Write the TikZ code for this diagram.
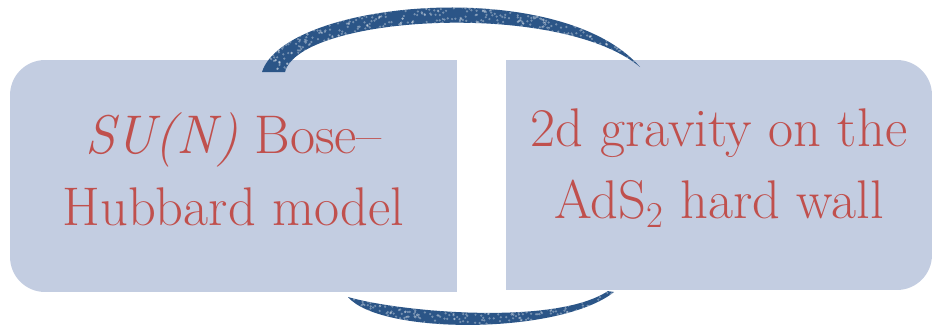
\documentclass[tikz,border=0pt]{standalone}
\usetikzlibrary{positioning}

\definecolor{boxfill}{HTML}{C3CDE1}
\definecolor{labelred}{HTML}{C0504D}
\definecolor{strokeblue}{HTML}{2B5587}

\tikzset{
  model box/.style={fill=boxfill, rounded corners=0.7cm, inner sep=0pt},
  model text/.style={text=labelred, align=center, yshift=0.14cm,
                     font=\fontsize{31}{41}\selectfont},
  brush/.style={fill=strokeblue},
}

% sprinkle light grain over the current clip region
\newcommand\grain[4]{%
  \pgfmathsetseed{#1}
  \foreach \i in {1,...,#4} {
    \pgfmathsetmacro\gx{#2+rnd*380}
    \pgfmathsetmacro\gy{#3+rnd*70}
    \fill[white,opacity=.35] (\gx,\gy) circle[radius=.7pt];
  }%
}

\begin{document}
\begin{tikzpicture}[x=0.02cm,y=-0.02cm]
\useasboundingbox (0,0) rectangle (932,329);

% the two boxes, rounded on the outer side only
\node[model box, minimum width=8.94cm, minimum height=4.64cm] (boseBox) at (233.5,176) {};
\fill[boxfill] (boseBox.north) rectangle (boseBox.south east);
\node[model box, minimum width=8.52cm, minimum height=4.60cm] (adsBox) at (719,175) {};
\fill[boxfill] (adsBox.south west) rectangle (adsBox.north);

\node[model text] (boseText) at (boseBox) {\textit{SU(N)} Bose--\\Hubbard model};
\node[model text] (adsText)  at (adsBox)  {2d gravity on the\\AdS$_2$ hard wall};

% upper stroke, blunt end on the left box, tip on the right box
\begin{scope}
  \clip (262,72) .. controls (285,0) and (560,-25) .. (640,67)
                 .. controls (560,0) and (300,15) .. (285,72) -- cycle;
  \fill[brush] (250,0) rectangle (650,80);
  \grain{3}{260}{0}{1600}
\end{scope}

% lower stroke, tip under the left box, thin end under the right box
\begin{scope}
  \clip (348,297) .. controls (380,335) and (560,335) .. (614,292)
                  -- (608,291) .. controls (555,326) and (400,312) .. (348,297) -- cycle;
  \fill[brush] (340,285) rectangle (620,329);
  \grain{5}{340}{262}{1400}
\end{scope}
\end{tikzpicture}
\end{document}
